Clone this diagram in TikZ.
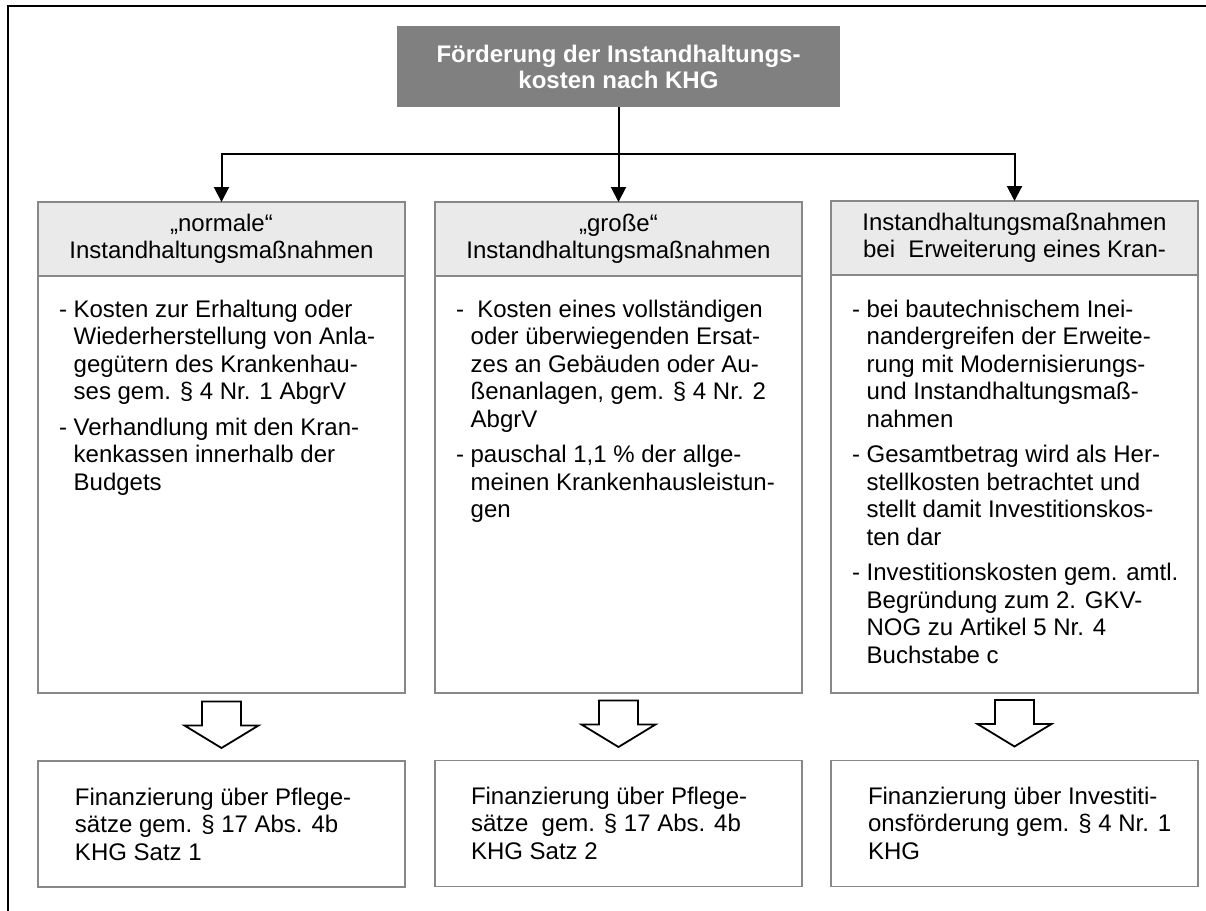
\documentclass[tikz,border=0pt]{standalone}
\usepackage{fontspec}
\setmainfont{Liberation Sans}
\usetikzlibrary{arrows.meta,calc}
\definecolor{hdrfill}{HTML}{EAEAEA}
\definecolor{boxline}{HTML}{888888}
\definecolor{titlefill}{HTML}{808080}
\newcommand{\fs}{\fontsize{12}{13.75}\selectfont}
\newcommand{\dsh}{\mbox{-\ }}
\tikzset{blockarr/.pic={\draw[line width=0.9pt, fill=white] (-19.5,0) -- (19.5,0) -- (19.5,24) -- (37,24) -- (0,46.5) -- (-37,24) -- (-19.5,24) -- cycle;}}
\begin{document}
\begin{tikzpicture}[x=0.5pt,y=-0.5pt,
  box/.style={draw=boxline, line width=0.9pt, minimum width=183.5pt, inner sep=0pt, outer sep=0pt},
  hdr/.style={box, fill=hdrfill, minimum height=37pt, align=center, font=\fs},
  body/.style={box, fill=white, minimum height=208.5pt},
  fin/.style={box, fill=white, minimum height=63pt},
  txt/.style={inner sep=0pt, outer sep=0pt, align=left, font=\fs},
  conn/.style={line width=1pt, -{Triangle[width=7.5pt,length=7.5pt]}}]
\useasboundingbox (0,0) rectangle (1206,911);
\draw[line width=0.9pt] (8,911) -- (8,6) -- (1206,6);

\node[fill=titlefill, minimum width=221.5pt, minimum height=40.5pt, inner sep=0pt, outer sep=0pt, text=white, align=center, font=\fontsize{12}{13}\selectfont\bfseries] (title) at (618.5,66.5) {Förderung der Instandhaltungs-\\kosten nach KHG};

\node[hdr] (h1) at (221.5,239) {„normale“\\Instandhaltungsmaßnahmen};
\node[hdr] (h2) at (618.5,239) {„große“\\Instandhaltungsmaßnahmen};
\node[hdr] (h3) at (1014.5,238) {Instandhaltungsmaßnahmen\\bei\ \ Erweiterung eines Kran-};

\node[body, anchor=north] (b1) at (h1.south) {};
\node[body, anchor=north] (b2) at (h2.south) {};
\node[body, anchor=north, minimum height=209pt] (b3) at (h3.south) {};

\node[fin] (f1) at (221.5,824) {};
\node[fin] (f2) at (618.5,823.5) {};
\node[fin] (f3) at (1014.5,823.5) {};

\coordinate (bar) at (618.5,154);
\draw[conn] (title.south) -- (h2.north);
\draw[conn] (title.south |- bar) -| (h1.north);
\draw[conn] (title.south |- bar) -| (h3.north);

\path (b1.south) ++(0,8.5) pic {blockarr};
\path (b2.south) ++(0,7.5) pic {blockarr};
\path (b3.south) ++(0,7) pic {blockarr};

\node[txt, anchor=base west] (t1) at (59,317) {\begin{tabular}[t]{@{}l@{}l@{}}
\dsh & Kosten zur Erhaltung oder\\
 & Wiederherstellung von Anla-\\
 & gegütern des Krankenhau-\\
 & ses gem. § 4 Nr. 1 AbgrV\\[4pt]
\dsh & Verhandlung mit den Kran-\\
 & kenkassen innerhalb der\\
 & Budgets
\end{tabular}};

\node[txt, anchor=base west] (t2) at (456,317) {\begin{tabular}[t]{@{}l@{}l@{}}
\dsh & \mbox{\ Kosten eines vollständigen}\\
 & oder überwiegenden Ersat-\\
 & zes an Gebäuden oder Au-\\
 & ßenanlagen, gem. § 4 Nr. 2\\
 & AbgrV\\[4pt]
\dsh & pauschal 1,1 \% der allge-\\
 & meinen Krankenhausleistun-\\
 & gen
\end{tabular}};

\node[txt, anchor=base west] (t3) at (852,317) {\begin{tabular}[t]{@{}l@{}l@{}}
\dsh & bei bautechnischem Inei-\\
 & nandergreifen der Erweite-\\
 & rung mit Modernisierungs-\\
 & und Instandhaltungsmaß-\\
 & nahmen\\[4pt]
\dsh & Gesamtbetrag wird als Her-\\
 & stellkosten betrachtet und\\
 & stellt damit Investitionskos-\\
 & ten dar\\[4pt]
\dsh & Investitionskosten gem. amtl.\\
 & Begründung zum 2. GKV-\\
 & NOG zu Artikel 5 Nr. 4\\
 & Buchstabe c
\end{tabular}};

\node[txt, anchor=west] (ft1) at (75,824) {Finanzierung über Pflege-\\sätze gem. § 17 Abs. 4b\\KHG Satz 1};
\node[txt, anchor=west] (ft2) at (471,823) {Finanzierung über Pflege-\\sätze\ \ gem. § 17 Abs. 4b\\KHG Satz 2};
\node[txt, anchor=west] (ft3) at (868,823) {Finanzierung über Investiti-\\onsförderung gem. § 4 Nr. 1\\KHG};
\end{tikzpicture}
\end{document}
